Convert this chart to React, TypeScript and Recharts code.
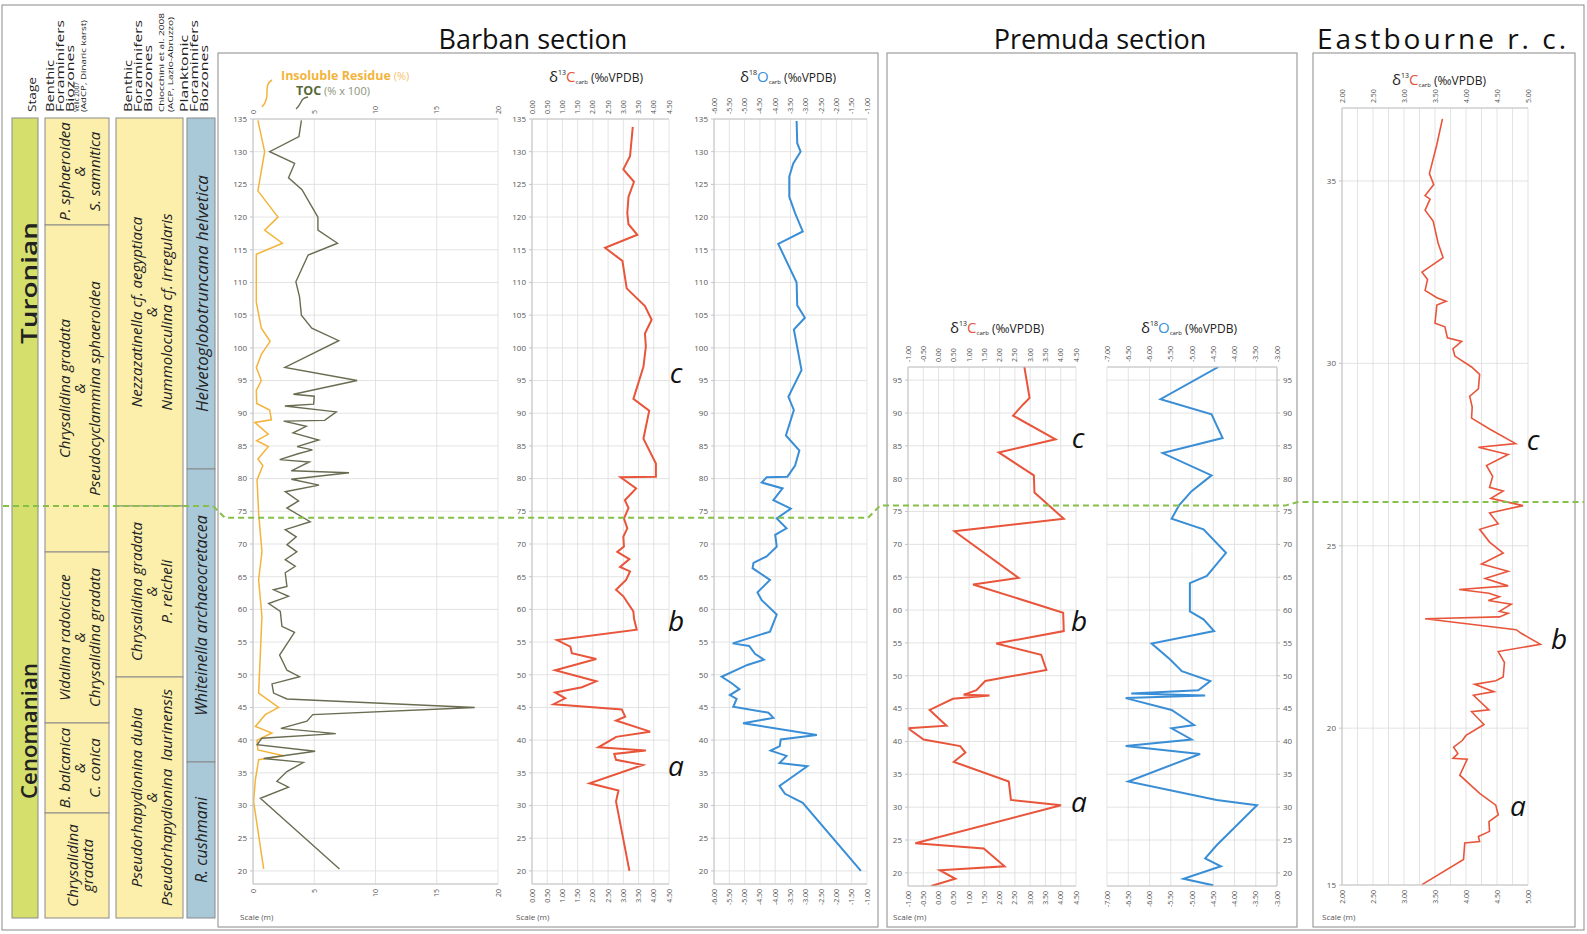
import React from 'react';
import { LineChart, Line, XAxis, YAxis, CartesianGrid } from 'recharts';

const FONT = '"Open Sans", "Noto Sans", sans-serif';
const PAD = 40;

// ---------- Barban section (depth in m, value) ----------
const barbanTocDepth = [134.8, 132.3, 130, 128.2, 126, 124.2, 121.6, 120, 118, 116, 114.2, 110.1, 107.8, 105, 103, 101.1, 97, 95, 92.9, 92.6, 91.4, 91.1, 90.2, 88.9, 88.8, 88, 87, 85.9, 84.9, 84.4, 83.8, 82.9, 82.55, 81.2, 80.9, 79.9, 79, 78, 76.6, 75.5, 73.4, 72.2, 71.1, 69.9, 68.8, 67.6, 66.6, 65.6, 63.5, 63, 62, 60.9, 59.7, 57.4, 56.5, 53, 50.7, 49.7, 48.6, 47.2, 46.3, 45, 43.9, 42.9, 41.8, 41, 40.3, 39.3, 38.3, 37.2, 36.6, 35.2, 33.7, 32.8, 31.1, 20.3];
const barbanToc = [3.95, 3.75, 1.36, 3.4, 2.9, 4.0, 4.8, 5.3, 5.3, 6.9, 4.5, 3.5, 3.8, 3.95, 4.8, 7.0, 2.6, 8.5, 3.3, 5.0, 4.95, 2.6, 6.8, 5.85, 2.5, 4.35, 3.27, 5.36, 3.6, 4.85, 3.67, 2.18, 4.6, 3.13, 7.84, 3.13, 5.39, 2.63, 3.72, 2.77, 4.67, 2.63, 3.53, 2.77, 3.58, 2.63, 3.45, 2.63, 2.77, 1.68, 2.9, 1.28, 2.23, 2.36, 3.39, 2.17, 2.77, 3.8, 1.55, 1.68, 2.77, 18.1, 4.88, 4.4, 2.28, 6.76, 0.73, 0.33, 5.07, 0.87, 4.12, 2.77, 1.95, 2.9, 0.6, 7.06];

const barbanIrDepth = [134.8, 130, 124, 120, 118, 116, 114.3, 107, 103, 101, 99, 97, 95, 93.5, 91.5, 90.5, 89, 88.6, 86.8, 85.8, 84.9, 83, 82, 79.8, 74.7, 68.8, 64.5, 58.9, 47.2, 45, 43.9, 42.1, 41.1, 40, 38.5, 37.6, 37, 33.9, 30.6, 20.3];
const barbanIr = [0.4, 0.95, 0.4, 2.04, 0.95, 2.4, 0.27, 0.27, 0.68, 1.4, 0.68, 0.27, 0.68, 0.27, 0.3, 1.36, 1.5, 0.14, 1.25, 0.3, 1.25, 0.4, 0.8, 0.33, 0.46, 0.73, 0.46, 0.73, 0.46, 2.09, 1.0, 0.19, 1.55, 0.33, 0.4, 2.5, 0.46, 0.19, 0.05, 0.87];

const barbanC13Depth = [133.8, 129.3, 127.3, 125.4, 123.1, 120.6, 118.9, 117.3, 115.3, 113.3, 109.1, 106.4, 104.3, 102.2, 100.2, 97.1, 92.2, 90.4, 86.1, 82.3, 80.3, 80.2, 78.5, 76.7, 75.5, 73.9, 72.4, 71.1, 69.6, 68.8, 67.7, 66.5, 65.8, 64.5, 63, 62, 59.7, 58.6, 56.9, 55.3, 54.3, 53.3, 52.4, 50.7, 49, 48.1, 47.3, 46.4, 45.5, 44.7, 43.6, 43, 41.3, 40.5, 40.3, 38.9, 38.4, 37.9, 37, 36.2, 33.4, 32.3, 30.6, 20];
const barbanC13 = [3.31, 3.22, 3.0, 3.35, 3.17, 3.13, 3.17, 3.46, 2.4, 2.97, 3.11, 3.71, 3.93, 3.71, 3.74, 3.66, 3.33, 3.85, 3.66, 4.07, 4.07, 2.91, 3.42, 3.05, 3.17, 3.02, 3.13, 3.0, 3.02, 2.8, 3.2, 2.89, 3.22, 3.09, 2.76, 3.0, 3.33, 3.35, 3.44, 0.82, 1.26, 1.31, 2.11, 0.76, 2.11, 1.64, 0.76, 1.09, 0.71, 2.95, 3.06, 2.76, 3.88, 2.76, 2.7, 2.18, 3.74, 2.7, 2.76, 3.64, 1.89, 2.84, 2.76, 3.2];

const barbanO18Depth = [134.7, 131.3, 130, 128.2, 126.2, 123.1, 120.6, 117.8, 115.9, 110, 106.5, 104.6, 102.8, 96.6, 92.5, 90.5, 86.6, 84.3, 82, 80.3, 80.2, 79.4, 78.5, 76.7, 75.4, 73.9, 72.4, 71.4, 69.6, 68.1, 67.1, 66.3, 64.5, 62.6, 61.4, 59.2, 56.6, 54.8, 54.4, 53.2, 52.3, 51.5, 49.7, 48.7, 47.8, 46.9, 46.3, 45.1, 44.2, 43.4, 42.6, 40.8, 40.1, 39.1, 38.4, 37.6, 36.5, 36, 33, 31.8, 30.4, 20];
const barbanO18 = [-3.3, -3.28, -3.17, -3.41, -3.54, -3.54, -3.35, -3.1, -3.9, -3.3, -3.28, -3.03, -3.39, -3.14, -3.57, -3.39, -3.65, -3.21, -3.35, -3.6, -4.28, -4.44, -3.76, -4.06, -3.49, -3.95, -3.63, -4.0, -3.95, -4.28, -4.71, -4.74, -4.17, -4.58, -4.44, -3.95, -4.17, -5.39, -4.85, -4.66, -4.37, -4.91, -5.75, -5.42, -5.17, -5.48, -5.26, -5.37, -4.22, -4.06, -5.05, -2.64, -3.82, -3.85, -4.15, -3.63, -3.86, -2.95, -3.86, -3.68, -3.1, -1.2];

// ---------- Premuda section ----------
const premudaC13Depth = [97, 92.3, 91.3, 89.6, 86, 84, 80.5, 77.9, 73.9, 72, 64.9, 63.9, 59.6, 56.8, 54.9, 53.2, 50.9, 49.2, 47.8, 47.1, 47, 46.5, 44.8, 42.4, 42, 40.3, 39.3, 38.3, 36.9, 33.9, 31.1, 30.3, 24.5, 23.7, 21, 20.4, 19.1, 18];
const premudaC13 = [2.81, 2.98, 2.77, 2.44, 3.83, 1.97, 3.12, 3.14, 4.1, 0.52, 2.62, 1.13, 4.08, 4.1, 1.89, 3.36, 3.53, 1.53, 1.24, 0.82, 1.67, 0.47, -0.29, 0.26, -1.0, -0.49, 0.71, 0.88, 0.5, 2.3, 2.37, 4.01, -0.76, 1.48, 2.16, 0.04, 0.55, -0.24];

const premudaO18Depth = [97, 92.1, 89.8, 86.2, 83.9, 80.5, 78.1, 76, 73.9, 72.3, 68.7, 65.2, 64.1, 59.8, 58.6, 56.8, 54.9, 52.5, 50.7, 49.2, 47.8, 47.3, 47, 46.6, 44.8, 42.5, 42, 40.3, 39.3, 38.1, 33.9, 31.1, 30.3, 24.2, 22.2, 21, 19.1, 18.1];
const premudaO18 = [-4.38, -5.74, -4.54, -4.28, -5.69, -4.54, -5.01, -5.3, -5.48, -4.73, -4.2, -4.65, -5.05, -5.05, -4.73, -4.48, -5.95, -5.52, -5.24, -4.57, -4.85, -6.43, -4.69, -6.56, -5.48, -4.95, -5.48, -5.01, -6.56, -4.81, -6.5, -4.42, -3.47, -4.42, -4.69, -4.32, -5.2, -4.5];

// ---------- Eastbourne reference curve ----------
const eastC13Depth = [36.7, 36, 35.2, 34.9, 34.6, 34.5, 34.2, 33.9, 33.3, 32.9, 32.5, 32.3, 32, 31.8, 31.7, 31.6, 31.1, 31, 30.7, 30.6, 30.4, 30.2, 29.9, 29.7, 29.3, 29.1, 28.8, 28.5, 28.2, 27.8, 27.7, 27.5, 27.2, 26.9, 26.6, 26.5, 26.3, 26.1, 25.9, 25.6, 25.45, 25.1, 24.8, 24.5, 24.3, 24.1, 23.9, 23.8, 23.7, 23.6, 23.5, 23.4, 23.2, 23.15, 23.05, 23, 22.7, 22.6, 22.3, 22.1, 21.8, 21.4, 21.3, 21.2, 21, 20.9, 20.5, 20.45, 20.1, 19.8, 19.66, 19.48, 19.3, 19.17, 19.15, 18.71, 18.21, 17.89, 17.62, 17.44, 17.17, 17.03, 16.89, 16.85, 16.4, 15.71];
const eastC13 = [3.62, 3.53, 3.41, 3.48, 3.34, 3.42, 3.34, 3.47, 3.55, 3.63, 3.29, 3.38, 3.34, 3.53, 3.68, 3.53, 3.5, 3.66, 3.7, 3.93, 3.79, 3.82, 4.09, 4.22, 4.2, 4.06, 4.1, 4.09, 4.38, 4.8, 4.2, 4.68, 4.33, 4.43, 4.38, 4.6, 4.4, 4.92, 4.38, 4.52, 4.22, 4.38, 4.6, 4.25, 4.68, 4.31, 4.68, 3.89, 4.37, 4.54, 4.36, 4.73, 4.54, 4.68, 4.54, 3.34, 4.81, 4.89, 5.2, 4.52, 4.62, 4.6, 4.48, 4.14, 4.45, 4.12, 4.37, 4.09, 4.29, 4.0, 3.94, 3.8, 3.87, 3.79, 4.02, 3.9, 4.22, 4.48, 4.52, 4.37, 4.38, 4.2, 4.22, 3.98, 3.96, 3.29];

// ---------- axis ticks ----------
const barbanDepthTicks = [20, 25, 30, 35, 40, 45, 50, 55, 60, 65, 70, 75, 80, 85, 90, 95, 100, 105, 110, 115, 120, 125, 130, 135];
const premudaDepthTicks = [20, 25, 30, 35, 40, 45, 50, 55, 60, 65, 70, 75, 80, 85, 90, 95];
const eastDepthTicks = [15.7, 20, 25, 30, 35]; // bottom of the scale is printed as "15"
const irTocTicks = [0, 5, 10, 15, 20];
const barbanC13Ticks = [0, 0.5, 1, 1.5, 2, 2.5, 3, 3.5, 4, 4.5];
const barbanO18Ticks = [-6, -5.5, -5, -4.5, -4, -3.5, -3, -2.5, -2, -1.5, -1];
const premudaC13Ticks = [-1, -0.5, 0, 0.5, 1, 1.5, 2, 2.5, 3, 3.5, 4, 4.5];
const premudaO18Ticks = [-7, -6.5, -6, -5.5, -5, -4.5, -4, -3.5, -3];
const eastC13Ticks = [2, 2.25, 2.5, 2.75, 3, 3.25, 3.5, 3.75, 4, 4.25, 4.5, 4.75, 5];

const C_COLOR = '#e8553b';
const O_COLOR = '#3a8ed6';
const TOC_COLOR = '#6a6c51';
const IR_COLOR = '#f3b43c';

type Pt = { m: number; v: number };
const zip = (depth: number[], vals: number[]): Pt[] => depth.map((m, i) => ({ m, v: vals[i] }));

type Series = { data: Pt[]; color: string; width: number };

interface PanelProps {
  x: number; y: number; w: number; h: number;
  xDomain: [number, number]; xTicks: number[]; digits: number; labelStep?: number;
  yDomain: [number, number]; yTicks: number[];
  series: Series[]; yRight?: boolean; noClip?: boolean;
}

function Panel(p: PanelProps) {
  const showLabel = (v: number) => {
    if (!p.labelStep) return true;
    const r = v / p.labelStep;
    return Math.abs(r - Math.round(r)) < 1e-6;
  };
  const tick = (top: boolean) => (props: any) => {
    const v = props.payload.value as number;
    if (!showLabel(v)) return <g />;
    const ty = top ? PAD - 5 : PAD + p.h + 5;
    return (
      <text x={props.x} y={ty} transform={`rotate(-90 ${props.x} ${ty})`} textAnchor={top ? 'start' : 'end'}
        dominantBaseline="central" fontSize={7} fill="#555" fontFamily={FONT}>
        {v.toFixed(p.digits)}
      </text>
    );
  };
  const axisLine = { stroke: '#c4c4c4' };
  return (
    <div className={p.noClip ? 'noclip' : undefined} style={{ position: 'absolute', left: p.x - PAD, top: p.y - PAD }}>
      <LineChart layout="vertical" width={p.w + 2 * PAD} height={p.h + 2 * PAD}
        margin={{ top: 0, bottom: 0, left: p.yRight ? PAD : 0, right: p.yRight ? 0 : PAD }}>
        <CartesianGrid stroke="#dcdcdc" strokeWidth={0.8} />
        <XAxis xAxisId={0} type="number" orientation="bottom" height={PAD} domain={p.xDomain} ticks={p.xTicks}
          allowDataOverflow interval={0} tick={tick(false)} axisLine={axisLine} tickLine={false} />
        <XAxis xAxisId="top" type="number" orientation="top" height={PAD} domain={p.xDomain} ticks={p.xTicks}
          allowDataOverflow interval={0} tick={tick(true)} axisLine={axisLine} tickLine={false} />
        <YAxis type="number" dataKey="m" orientation={p.yRight ? 'right' : 'left'} width={PAD} domain={p.yDomain}
          ticks={p.yTicks} reversed allowDataOverflow interval={0} tickSize={3} tickMargin={3}
          tickFormatter={(v: number) => String(Math.floor(v))}
          tick={{ fontSize: 8, fill: '#555', fontFamily: FONT }} axisLine={axisLine} tickLine={{ stroke: '#c4c4c4' }} />
        {p.series.map((s, i) => (
          <Line key={i} data={s.data} dataKey="v" xAxisId={0} type="linear" stroke={s.color} strokeWidth={s.width}
            dot={false} activeDot={false} isAnimationActive={false} />
        ))}
      </LineChart>
    </div>
  );
}

const IsoTitle = ({ cx, cy, iso, el, color }: { cx: number; cy: number; iso: string; el: string; color: string }) => (
  <div style={{ position: 'absolute', left: cx, top: cy, transform: 'translate(-50%, -50%)', whiteSpace: 'nowrap', fontFamily: FONT, fontSize: 12, color: '#222', lineHeight: 1 }}>
    <span style={{ fontSize: 15 }}>δ</span>
    <span style={{ fontSize: 7, verticalAlign: 7 }}>{iso}</span>
    <span style={{ fontSize: 15, color }}>{el}</span>
    <span style={{ fontSize: 6, verticalAlign: -2 }}>carb</span>
    <span> (‰VPDB)</span>
  </div>
);

const Letter = ({ cx, cy, t }: { cx: number; cy: number; t: string }) => (
  <div style={{ position: 'absolute', left: cx, top: cy, transform: 'translate(-50%, -50%)', fontFamily: FONT, fontStyle: 'italic', fontSize: 28, color: '#111', lineHeight: 1 }}>{t}</div>
);

const SectionTitle = ({ cx, t, size = 27, spacing = 0 }: { cx: number; t: string; size?: number; spacing?: number }) => (
  <div style={{ position: 'absolute', left: cx, top: 38, transform: 'translate(-50%, -50%)', whiteSpace: 'nowrap', fontFamily: FONT, fontSize: size, letterSpacing: spacing, color: '#111', lineHeight: 1 }}>{t}</div>
);

const ScaleLabel = ({ x }: { x: number }) => (
  <div style={{ position: 'absolute', left: x, top: 911, fontFamily: FONT, fontSize: 8, color: '#555', whiteSpace: 'nowrap' }}>Scale (m)</div>
);

type Zone = { y0: number; y1: number; lines: string[]; size?: number };
const velicZones: Zone[] = [
  { y0: 118, y1: 225, lines: ['P. sphaeroidea', '&', 'S. samnitica'] },
  { y0: 225, y1: 552, lines: ['Chrysalidina gradata', '&', 'Pseudocyclammina sphaeroidea'] },
  { y0: 552, y1: 723, lines: ['Vidalina radoicicae', '&', 'Chrysalidina gradata'] },
  { y0: 723, y1: 813, lines: ['B. balcanica', '&', 'C. conica'] },
  { y0: 813, y1: 918, lines: ['Chrysalidina', 'gradata'] },
];
const chiocchiniZones: Zone[] = [
  { y0: 118, y1: 506, lines: ['Nezzazatinella cf. aegyptiaca', '&', 'Nummoloculina cf. irregularis'] },
  { y0: 506, y1: 677, lines: ['Chrysalidina gradata', '&', 'P. reicheli'] },
  { y0: 677, y1: 918, lines: ['Pseudorhapydionina dubia', '&', 'Pseudorhapydionina  laurinensis'] },
];
const planktonicZones: Zone[] = [
  { y0: 118, y1: 469, lines: ['Helvetoglobotruncana helvetica'], size: 17 },
  { y0: 469, y1: 762, lines: ['Whiteinella archaeocretacea'], size: 16 },
  { y0: 762, y1: 918, lines: ['R. cushmani'], size: 16 },
];

function ZoneColumn({ x0, x1, cx, fill, zones }: { x0: number; x1: number; cx: number; fill: string; zones: Zone[] }) {
  return (
    <g>
      {zones.map((z, i) => {
        const cy = (z.y0 + z.y1) / 2;
        const lh = 15;
        return (
          <g key={i}>
            <rect x={x0} y={z.y0} width={x1 - x0} height={z.y1 - z.y0} fill={fill} stroke="#8a8a8a" strokeWidth={1} />
            <text transform={`translate(${cx},${cy}) rotate(-90)`} textAnchor="middle" fontFamily={FONT}
              fontStyle="italic" fontSize={z.size || 15} fill="#222">
              {z.lines.map((l, j) => (
                <tspan key={j} x={0} y={(j - (z.lines.length - 1) / 2) * lh} dominantBaseline="central" style={{ whiteSpace: 'pre' }}>{l}</tspan>
              ))}
            </text>
          </g>
        );
      })}
    </g>
  );
}

// column headings: centre x, printed length, font size
const headerTexts: { x: number; t: string; len: number; s: number }[] = [
  { x: 31, t: 'Stage', len: 35, s: 11 },
  { x: 49.5, t: 'Benthic', len: 52, s: 10.5 },
  { x: 59.5, t: 'Foraminifers', len: 92, s: 10.5 },
  { x: 69.5, t: 'Biozones', len: 67, s: 10.5 },
  { x: 76.5, t: 'Velić 2007', len: 30, s: 6.5 },
  { x: 83.5, t: '(AdCP, Dinaric karst)', len: 92, s: 6.5 },
  { x: 127.5, t: 'Benthic', len: 52, s: 10.5 },
  { x: 137.5, t: 'Foraminifers', len: 92, s: 10.5 },
  { x: 147.5, t: 'Biozones', len: 67, s: 10.5 },
  { x: 161, t: 'Chiocchini et al. 2008', len: 99, s: 6.5 },
  { x: 170, t: '(ACP, Lazio-Abruzzo)', len: 95, s: 6.5 },
  { x: 183.5, t: 'Planktonic', len: 77, s: 10.5 },
  { x: 193.5, t: 'Foraminifers', len: 92, s: 10.5 },
  { x: 203.5, t: 'Biozones', len: 67, s: 10.5 },
];

// vertical position of a depth inside a panel (same linear map the y axis uses)
const depthY = (m: number, top: number, h: number, dom: [number, number]) => top + ((dom[1] - m) / (dom[1] - dom[0])) * h;

export default function App() {
  const bTop = 119, bH = 765, bDom: [number, number] = [18, 135];
  const pTop = 367, pH = 519, pDom: [number, number] = [18, 97];
  const eTop = 108, eH = 777, eDom: [number, number] = [15.7, 37];

  const yB = depthY(74, bTop, bH, bDom);
  const yP = depthY(75.9, pTop, pH, pDom);
  const yE = depthY(26.2, eTop, eH, eDom);

  return (
    <div style={{ position: 'absolute', left: 0, top: 0, width: 1587, height: 934, background: '#fff', overflow: 'hidden', fontFamily: FONT }}>
      <style>{`.noclip [clip-path]{clip-path:none !important;}`}</style>
      <svg width={1587} height={934} style={{ position: 'absolute', left: 0, top: 0 }}>
        <rect x={2} y={5} width={1582} height={925} fill="none" stroke="#8a8a8a" />
        <rect x={218} y={53} width={660} height={874} fill="none" stroke="#8a8a8a" />
        <rect x={887} y={53} width={410} height={874} fill="none" stroke="#8a8a8a" />
        <rect x={1313} y={53} width={262} height={874} fill="none" stroke="#8a8a8a" />

        {headerTexts.map((h, i) => (
          <text key={i} transform={`translate(${h.x},112) rotate(-90)`} dominantBaseline="central" fontFamily={FONT}
            fontSize={h.s} fill="#222" textLength={h.len} lengthAdjust="spacingAndGlyphs">{h.t}</text>
        ))}

        <rect x={12} y={118} width={26} height={800} fill="#d5e06c" stroke="#8a8a8a" />
        <text transform="translate(28,283) rotate(-90)" textAnchor="middle" dominantBaseline="central" fontFamily={FONT}
          fontSize={22} fontWeight={600} fill="#222" textLength={122} lengthAdjust="spacingAndGlyphs">Turonian</text>
        <text transform="translate(28,731) rotate(-90)" textAnchor="middle" dominantBaseline="central" fontFamily={FONT}
          fontSize={22} fontWeight={600} fill="#222" textLength={136} lengthAdjust="spacingAndGlyphs">Cenomanian</text>

        <ZoneColumn x0={45} x1={109} cx={79} fill="#fbefab" zones={velicZones} />
        <ZoneColumn x0={116} x1={183} cx={151} fill="#fbefab" zones={chiocchiniZones} />
        <ZoneColumn x0={187} x1={215} cx={201} fill="#a9c8d8" zones={planktonicZones} />

        {/* legend arrows */}
        <path d="M272,80 C262,86 272,96 262,107" fill="none" stroke={IR_COLOR} strokeWidth={1.5} />
        <path d="M308,97 C300,98 302,104 296,109" fill="none" stroke={TOC_COLOR} strokeWidth={1.3} />
      </svg>

      <SectionTitle cx={533} t="Barban section" />
      <SectionTitle cx={1100} t="Premuda section" />
      <SectionTitle cx={1443} t="Eastbourne r. c." size={28} spacing={3} />

      <div style={{ position: 'absolute', left: 281, top: 70, whiteSpace: 'nowrap', fontSize: 12.5, lineHeight: 1 }}>
        <span style={{ color: IR_COLOR, fontWeight: 700 }}>Insoluble Residue</span>
        <span style={{ color: '#f5c46a', fontSize: 11 }}> (%)</span>
      </div>
      <div style={{ position: 'absolute', left: 296, top: 85, whiteSpace: 'nowrap', fontSize: 12.5, lineHeight: 1 }}>
        <span style={{ color: '#58683a', fontWeight: 700 }}>TOC</span>
        <span style={{ color: '#8a937a', fontSize: 11 }}> (% x 100)</span>
      </div>

      <IsoTitle cx={596} cy={77} iso="13" el="C" color={C_COLOR} />
      <IsoTitle cx={788} cy={77} iso="18" el="O" color={O_COLOR} />
      <IsoTitle cx={997} cy={328} iso="13" el="C" color={C_COLOR} />
      <IsoTitle cx={1189} cy={328} iso="18" el="O" color={O_COLOR} />
      <IsoTitle cx={1439} cy={80} iso="13" el="C" color={C_COLOR} />

      <Panel x={253} y={bTop} w={245} h={bH} xDomain={[0, 20]} xTicks={irTocTicks} digits={0}
        yDomain={bDom} yTicks={barbanDepthTicks}
        series={[
          { data: zip(barbanIrDepth, barbanIr), color: IR_COLOR, width: 1.5 },
          { data: zip(barbanTocDepth, barbanToc), color: TOC_COLOR, width: 1.4 },
        ]} />
      <Panel x={532} y={bTop} w={137} h={bH} xDomain={[0, 4.5]} xTicks={barbanC13Ticks} digits={2}
        yDomain={bDom} yTicks={barbanDepthTicks}
        series={[{ data: zip(barbanC13Depth, barbanC13), color: C_COLOR, width: 2 }]} />
      <Panel x={714} y={bTop} w={153} h={bH} xDomain={[-6, -1]} xTicks={barbanO18Ticks} digits={2}
        yDomain={bDom} yTicks={barbanDepthTicks}
        series={[{ data: zip(barbanO18Depth, barbanO18), color: O_COLOR, width: 2 }]} />
      <Panel x={908} y={pTop} w={168} h={pH} xDomain={[-1, 4.5]} xTicks={premudaC13Ticks} digits={2}
        yDomain={pDom} yTicks={premudaDepthTicks}
        series={[{ data: zip(premudaC13Depth, premudaC13), color: C_COLOR, width: 2 }]} />
      <Panel x={1107} y={pTop} w={170} h={pH} xDomain={[-7, -3]} xTicks={premudaO18Ticks} digits={2}
        yDomain={pDom} yTicks={premudaDepthTicks} yRight
        series={[{ data: zip(premudaO18Depth, premudaO18), color: O_COLOR, width: 2 }]} />
      <Panel x={1342} y={eTop} w={186} h={eH} xDomain={[2, 5]} xTicks={eastC13Ticks} digits={2} labelStep={0.5}
        yDomain={eDom} yTicks={eastDepthTicks} noClip
        series={[{ data: zip(eastC13Depth, eastC13), color: C_COLOR, width: 1.6 }]} />

      <ScaleLabel x={240} />
      <ScaleLabel x={516} />
      <ScaleLabel x={893} />
      <ScaleLabel x={1322} />

      <Letter cx={676} cy={372} t="c" />
      <Letter cx={676} cy={620} t="b" />
      <Letter cx={676} cy={765} t="a" />
      <Letter cx={1078} cy={437} t="c" />
      <Letter cx={1079} cy={620} t="b" />
      <Letter cx={1079} cy={801} t="a" />
      <Letter cx={1533} cy={439} t="c" />
      <Letter cx={1559} cy={638} t="b" />
      <Letter cx={1518} cy={805} t="a" />

      <svg width={1587} height={934} style={{ position: 'absolute', left: 0, top: 0, pointerEvents: 'none' }}>
        <polyline
          points={`3,506 213,506 225,${yB} 868,${yB} 880,${yP} 1285,${yP} 1298,${yE} 1584,${yE}`}
          fill="none" stroke="#86c04a" strokeWidth={2} strokeDasharray="6 4" />
      </svg>
    </div>
  );
}
